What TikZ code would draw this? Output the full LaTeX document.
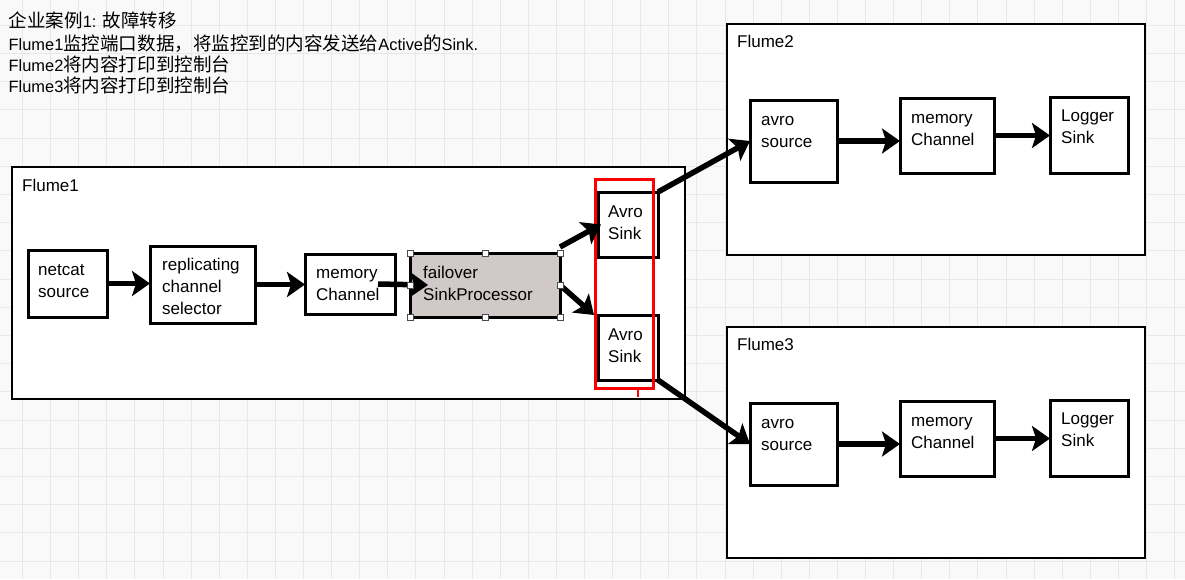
\documentclass[tikz,border=0pt]{standalone}
\usepackage{fontspec}
\setmainfont{Liberation Sans}
\newfontfamily\cjk{Noto Sans CJK SC}[Scale=1.13]
\usetikzlibrary{arrows.meta}
\definecolor{gridbg}{RGB}{249,249,249}
\definecolor{gridln}{RGB}{232,232,232}
\definecolor{procfill}{RGB}{209,200,200}

\begin{document}
\begin{tikzpicture}[x=1pt, y=-1pt,
  frame/.style={draw, line width=2.6pt, fill=white, inner sep=0pt, outer sep=0pt, anchor=north west},
  comp/.style={frame, line width=3pt},
  txt/.style={anchor=north west, inner sep=0pt, align=left, font=\fontsize{17}{22}\selectfont},
  flow/.style={-{Stealth[length=18pt, width=25pt, inset=4pt]}, line width=5.5pt},
  handle/.style={draw=black!70, fill=white, line width=0.8pt, minimum size=6pt, inner sep=0pt}]

% Background grid
\useasboundingbox (0,0) rectangle (1185,579);
\fill[gridbg] (0,0) rectangle (1185,579);
\foreach \i in {0,...,41} \draw[gridln, line width=0.9pt] ({22.5+28.1*\i},0) -- ({22.5+28.1*\i},579);
\foreach \j in {0,...,20} \draw[gridln, line width=0.9pt] (0,{-3+28.2*\j}) -- (1185,{-3+28.2*\j});

% Title
\node[anchor=north west, inner sep=0pt, align=left, font=\fontsize{16.4}{20.7}\selectfont] (title) at (8.5,12)
  {\strut{\cjk 企业案例}1: {\cjk 故障转移}\\Flume1{\cjk 监控端口数据，将监控到的内容发送给}Active{\cjk 的}Sink.\\Flume2{\cjk 将内容打印到控制台}\\Flume3{\cjk 将内容打印到控制台}};

% Flume1
\node[frame, minimum width=673pt, minimum height=232pt] (flume1) at (12,167) {};
\node[txt] (lbl1) at (22,175.6) {\strut Flume1};
\node[comp, minimum width=79pt, minimum height=67pt] (netcat) at (28,250) {};
\node[comp, minimum width=105pt, minimum height=77pt] (repl) at (150,246) {};
\node[comp, minimum width=90pt, minimum height=60pt] (mem1) at (305,254) {};
\node[comp, fill=procfill, minimum width=150pt, minimum height=64pt] (fail) at (410,253) {};
\node[comp, minimum width=60pt, minimum height=65pt] (sink1) at (598,192) {};
\node[comp, minimum width=60pt, minimum height=65pt] (sink2) at (598,315) {};
\node[txt] (tnetcat) at ([shift={(10,9.6)}]netcat.north west) {\strut netcat\\source};
\node[txt] (trepl) at ([shift={(12,8.6)}]repl.north west) {\strut replicating\\channel\\selector};
\node[txt] (tmem1) at ([shift={(11,8.6)}]mem1.north west) {\strut memory\\Channel};
\node[txt] (tfail) at ([shift={(13,9.6)}]fail.north west) {\strut failover\\SinkProcessor};
\node[txt] (tsink1) at ([shift={(10,9.6)}]sink1.north west) {\strut Avro\\Sink};
\node[txt] (tsink2) at ([shift={(10,9.6)}]sink2.north west) {\strut Avro\\Sink};

% Flume2
\node[frame, minimum width=418pt, minimum height=231pt] (flume2) at (727,24) {};
\node[txt] (lbl2) at (737,31.6) {\strut Flume2};
\node[comp, minimum width=87pt, minimum height=82pt] (avro2) at (750,100) {};
\node[comp, minimum width=94pt, minimum height=75pt] (mem2) at (900,98) {};
\node[comp, minimum width=78pt, minimum height=76pt] (log2) at (1050,97) {};
\node[txt] (tavro2) at ([shift={(11,9.6)}]avro2.north west) {\strut avro\\source};
\node[txt] (tmem2) at ([shift={(11,9.6)}]mem2.north west) {\strut memory\\Channel};
\node[txt] (tlog2) at ([shift={(11,8.6)}]log2.north west) {\strut Logger\\Sink};

% Flume3
\node[frame, minimum width=418pt, minimum height=231pt] (flume3) at (727,327) {};
\node[txt] (lbl3) at (737,334.6) {\strut Flume3};
\node[comp, minimum width=87pt, minimum height=82pt] (avro3) at (750,403) {};
\node[comp, minimum width=94pt, minimum height=75pt] (mem3) at (900,401) {};
\node[comp, minimum width=78pt, minimum height=76pt] (log3) at (1050,400) {};
\node[txt] (tavro3) at ([shift={(11,9.6)}]avro3.north west) {\strut avro\\source};
\node[txt] (tmem3) at ([shift={(11,9.6)}]mem3.north west) {\strut memory\\Channel};
\node[txt] (tlog3) at ([shift={(11,8.6)}]log3.north west) {\strut Logger\\Sink};

% Selection around the sinks
\node[draw=red, line width=3pt, inner sep=0pt, outer sep=0pt, anchor=north west,
  minimum width=58pt, minimum height=209pt] (sel) at (595,179) {};
\draw[red, line width=2pt] ([xshift=14pt]sel.south) -- ++(0,9);

% Arrows
\draw[flow] (netcat.east) -- (netcat.east -| repl.west);
\draw[flow] (repl.east) -- (repl.east -| mem1.west);
\draw[flow] ([xshift=-17pt]mem1.east) -- ([xshift=18pt]fail.west);
\draw[flow] ([yshift=6pt]fail.north east) -- ([xshift=3pt]sink1.west);
\draw[flow] (fail.east) -- ([xshift=-4pt]sink2.north west);
\draw[flow] (sink1.north east) -- (avro2.west);
\draw[flow] (sink2.south east) -- (avro3.west);
\draw[flow] (avro2.east) -- (avro2.east -| mem2.west);
\draw[flow] (mem2.east) -- (mem2.east -| log2.west);
\draw[flow] (avro3.east) -- (avro3.east -| mem3.west);
\draw[flow] (mem3.east) -- (mem3.east -| log3.west);

% Handles of the selected processor
\foreach \a [count=\i] in {north west,north,north east,east,south east,south,south west,west}
  \node[handle] (hd\i) at (fail.\a) {};
\end{tikzpicture}
\end{document}
